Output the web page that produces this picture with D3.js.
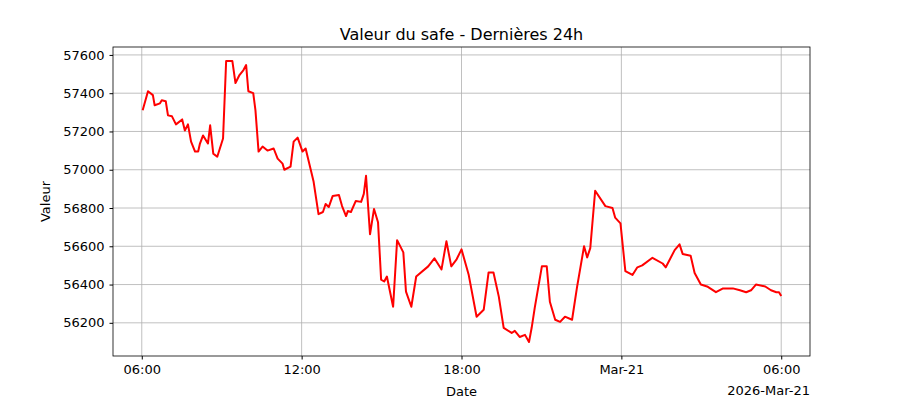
<!DOCTYPE html>
<html lang="fr">
<head>
<meta charset="UTF-8">
<title>Valeur du safe</title>
<script src="https://d3js.org/d3.v7.min.js"></script>
<style>
  body { margin: 0; background: #fff; }
  svg { font-family: "DejaVu Sans", sans-serif; }
</style>
</head>
<body>
<svg width="900" height="400"></svg>
<script>
// minutes after 2026-03-20 06:00
const minutes = [2,14,25,29,41,45,54,59,68,77,91,97,104,111,120,127,131,138,149,154,161,170,183,190,204,211,220,229,235,240,251,256,263,272,283,297,306,317,321,335,342,351,362,369,380,387,398,408,414,421,430,444,451,460,464,471,482,494,500,505,514,523,532,539,546,552,566,575,589,595,607,618,645,659,675,686,697,709,720,736,754,770,781,792,804,815,833,840,851,863,872,878,885,901,912,919,931,942,953,969,980,996,1003,1010,1021,1044,1060,1066,1078,1089,1105,1116,1127,1150,1173,1180,1200,1211,1218,1236,1245,1259,1273,1293,1309,1331,1347,1361,1372,1383,1404,1417,1429,1435,1440];
const values = [57311,57410,57390,57337,57347,57363,57358,57284,57279,57237,57263,57205,57237,57147,57095,57095,57137,57179,57137,57232,57084,57068,57163,57568,57568,57453,57495,57521,57547,57410,57400,57310,57095,57121,57100,57111,57058,57032,57000,57016,57147,57168,57095,57111,57005,56937,56768,56779,56821,56805,56863,56868,56810,56758,56784,56779,56837,56832,56874,56968,56663,56795,56726,56426,56416,56442,56284,56632,56568,56363,56284,56442,56495,56537,56479,56626,56495,56532,56584,56453,56232,56268,56463,56463,56337,56174,56147,56158,56126,56137,56100,56174,56279,56495,56495,56310,56216,56205,56232,56216,56384,56600,56542,56590,56890,56810,56800,56750,56720,56470,56450,56490,56500,56540,56510,56490,56580,56610,56560,56550,56460,56400,56390,56360,56380,56380,56370,56360,56370,56400,56390,56370,56360,56360,56340];
const yTicks = [56200,56400,56600,56800,57000,57200,57400,57600];

const start = new Date(2026, 2, 20, 6, 0);
const data = minutes.map((m, i) => ({ t: new Date(start.getTime() + m * 60000), v: values[i] }));

const m = { left: 113, right: 810, top: 47, bottom: 356 };
const svg = d3.select("svg");

const tMin = start.getTime(), tMax = start.getTime() + 1440 * 60000, pad = (tMax - tMin) * 0.045;
const x = d3.scaleTime().domain([new Date(tMin - pad), new Date(tMax + pad)]).range([m.left, m.right]);
const vMin = d3.min(values), vMax = d3.max(values), vp = (vMax - vMin) * 0.05;
const y = d3.scaleLinear().domain([vMin - vp, vMax + vp]).range([m.bottom, m.top]);

const xTicks = [0, 6, 12, 18, 24].map(h => new Date(tMin + h * 3600000));
const fmt = d => d.getHours() === 0 ? "Mar-21" : d3.timeFormat("%H:%M")(d);

// grid
svg.append("g").selectAll("line").data(xTicks).join("line")
  .attr("x1", d => x(d)).attr("x2", d => x(d)).attr("y1", m.top).attr("y2", m.bottom)
  .attr("stroke", "#b0b0b0").attr("stroke-width", 0.8);
svg.append("g").selectAll("line").data(yTicks).join("line")
  .attr("x1", m.left).attr("x2", m.right).attr("y1", d => y(d)).attr("y2", d => y(d))
  .attr("stroke", "#b0b0b0").attr("stroke-width", 0.8);

svg.append("path").datum(data)
  .attr("fill", "none").attr("stroke", "red").attr("stroke-width", 2).attr("stroke-linejoin", "round")
  .attr("d", d3.line().x(d => x(d.t)).y(d => y(d.v)));

const xAxis = svg.append("g").attr("transform", `translate(0,${m.bottom})`)
  .call(d3.axisBottom(x).tickValues(xTicks).tickFormat(fmt).tickSizeOuter(0).tickSize(3.5).tickPadding(5));
const yAxis = svg.append("g").attr("transform", `translate(${m.left},0)`)
  .call(d3.axisLeft(y).tickValues(yTicks).tickFormat(d3.format("d")).tickSizeOuter(0).tickSize(3.5).tickPadding(5));
[xAxis, yAxis].forEach(a => {
  a.select(".domain").remove();
  a.selectAll("text").attr("font-size", 13).attr("fill", "#000").attr("font-family", "DejaVu Sans");
  a.selectAll("line").attr("stroke", "#000");
});

svg.append("rect").attr("x", m.left).attr("y", m.top).attr("width", m.right - m.left).attr("height", m.bottom - m.top)
  .attr("fill", "none").attr("stroke", "#000").attr("stroke-width", 0.8);

svg.append("text").attr("x", (m.left + m.right) / 2).attr("y", 40).attr("text-anchor", "middle")
  .attr("font-size", 16).text("Valeur du safe - Dernières 24h");
svg.append("text").attr("x", (m.left + m.right) / 2).attr("y", 396).attr("text-anchor", "middle")
  .attr("font-size", 13).text("Date");
svg.append("text").attr("x", m.right).attr("y", 395).attr("text-anchor", "end")
  .attr("font-size", 13).text("2026-Mar-21");
svg.append("text").attr("transform", `translate(50,${(m.top + m.bottom) / 2}) rotate(-90)`)
  .attr("text-anchor", "middle").attr("font-size", 13).text("Valeur");
</script>
</body>
</html>
